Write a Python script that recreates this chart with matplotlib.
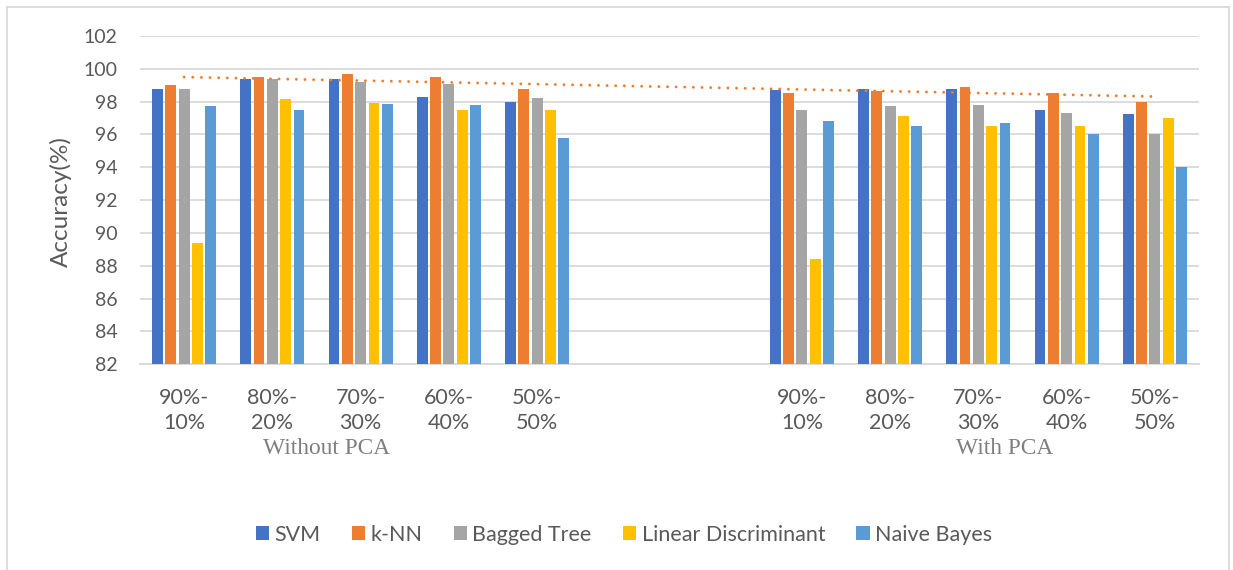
import numpy as np
import matplotlib
matplotlib.use("Agg")
import matplotlib.pyplot as plt
from matplotlib.lines import Line2D
from matplotlib.patches import Patch

# Train/test splits; two blank slots separate the two experiment blocks
splits = ["90%-\n10%", "80%-\n20%", "70%-\n30%", "60%-\n40%", "50%-\n50%",
          "", "",
          "90%-\n10%", "80%-\n20%", "70%-\n30%", "60%-\n40%", "50%-\n50%"]

series_names = ["SVM", "k-NN", "Bagged Tree", "Linear Discriminant", "Naive Bayes"]
series_colors = ["#4472C4", "#ED7D31", "#A5A5A5", "#FFC000", "#5B9BD5"]

# Accuracy (%) per classifier: 5 splits without PCA, 2 gaps, 5 splits with PCA
svm = [98.75, 99.4, 99.4, 98.3, 98.0, np.nan, np.nan, 98.7, 98.75, 98.75, 97.5, 97.25]
knn = [99.0, 99.5, 99.7, 99.5, 98.8, np.nan, np.nan, 98.5, 98.65, 98.9, 98.5, 98.0]
bagged = [98.75, 99.4, 99.2, 99.1, 98.2, np.nan, np.nan, 97.5, 97.75, 97.8, 97.3, 96.0]
lda = [89.4, 98.15, 97.9, 97.5, 97.5, np.nan, np.nan, 88.4, 97.15, 96.5, 96.5, 97.0]
nbayes = [97.75, 97.5, 97.85, 97.8, 95.8, np.nan, np.nan, 96.8, 96.5, 96.7, 96.0, 94.0]

group_labels = ["Without PCA", "With PCA"]

W, H = 1233, 570
fig = plt.figure(figsize=(W / 100, H / 100), dpi=100)
fig.patch.set_facecolor("white")

ax_left, ax_right, ax_top, ax_bottom = 140, 1199, 36, 364.3
ax = fig.add_axes([ax_left / W, 1 - ax_bottom / H,
                   (ax_right - ax_left) / W, (ax_bottom - ax_top) / H])

x = np.arange(len(splits))
pitch = 0.151
bar_w = 0.123
all_series = [svm, knn, bagged, lda, nbayes]
for i, (vals, col) in enumerate(zip(all_series, series_colors)):
    v = np.array(vals, dtype=float)
    ax.bar(x + (i - 2) * pitch, v - 82, bottom=82, width=bar_w, color=col,
           zorder=3, linewidth=0)

# Linear trend of k-NN accuracy across the populated slots
kv = np.array(knn, dtype=float)
mask = ~np.isnan(kv)
coef = np.polyfit(x[mask], kv[mask], 1)
xt = np.array([x[mask].min(), x[mask].max()], dtype=float)
ax.plot(xt, np.polyval(coef, xt), color="#ED7D31", linewidth=2.1,
        linestyle=(0, (0.01, 2.95)), dash_capstyle="round", zorder=4)

ax.set_xlim(-0.5, len(splits) - 0.5)
ax.set_ylim(82, 102)
ax.set_yticks(np.arange(82, 103, 2))
ax.set_xticks(x)
ax.set_xticklabels(splits)
ax.grid(axis="y", color="#D9D9D9", linewidth=1.3, zorder=0)
ax.set_axisbelow(True)
for s in ["top", "right", "left"]:
    ax.spines[s].set_visible(False)
ax.spines["bottom"].set_color("#D9D9D9")
ax.spines["bottom"].set_linewidth(1.3)
ax.tick_params(axis="both", length=0)
ax.tick_params(axis="y", labelsize=14, labelcolor="#595959", pad=16)
ax.tick_params(axis="x", labelsize=15.5, labelcolor="#595959", pad=17)
for lab in ax.get_yticklabels():
    lab.set_fontfamily("Lato")
for lab in ax.get_xticklabels():
    lab.set_fontfamily("Lato")
    lab.set_linespacing(1.3)
    lab.set_multialignment("center")

fig.text(61 / W, 1 - 202 / H, "Accuracy(%)", rotation=90, ha="center",
         va="center", fontsize=17.5, color="#595959", family="Lato")

fig.text(327 / W, 1 - 448 / H, group_labels[0], ha="center", va="center",
         fontsize=16.8, color="#7F7F7F", family="Liberation Serif")
fig.text(1005 / W, 1 - 448 / H, group_labels[1], ha="center", va="center",
         fontsize=16.8, color="#7F7F7F", family="Liberation Serif")

handles = [Patch(facecolor=c, edgecolor="none") for c in series_colors]
leg = fig.legend(handles, series_names, loc="center", ncol=5,
                 bbox_to_anchor=(624 / W, 1 - 535 / H), frameon=False,
                 prop={"family": "Lato", "size": 15.5},
                 handlelength=0.62, handleheight=0.62, handletextpad=0.25,
                 columnspacing=1.45)
for t in leg.get_texts():
    t.set_color("#595959")

# Chart-area frame
frame_kw = dict(color="#D9D9D9", linewidth=1.3, transform=fig.transFigure)
fig.add_artist(Line2D([7 / W, 1229 / W], [1 - 7 / H, 1 - 7 / H], **frame_kw))
fig.add_artist(Line2D([7 / W, 7 / W], [1 - 7 / H, 0], **frame_kw))
fig.add_artist(Line2D([1229 / W, 1229 / W], [1 - 7 / H, 0], **frame_kw))

fig.savefig("out.png", dpi=100, facecolor="white")
